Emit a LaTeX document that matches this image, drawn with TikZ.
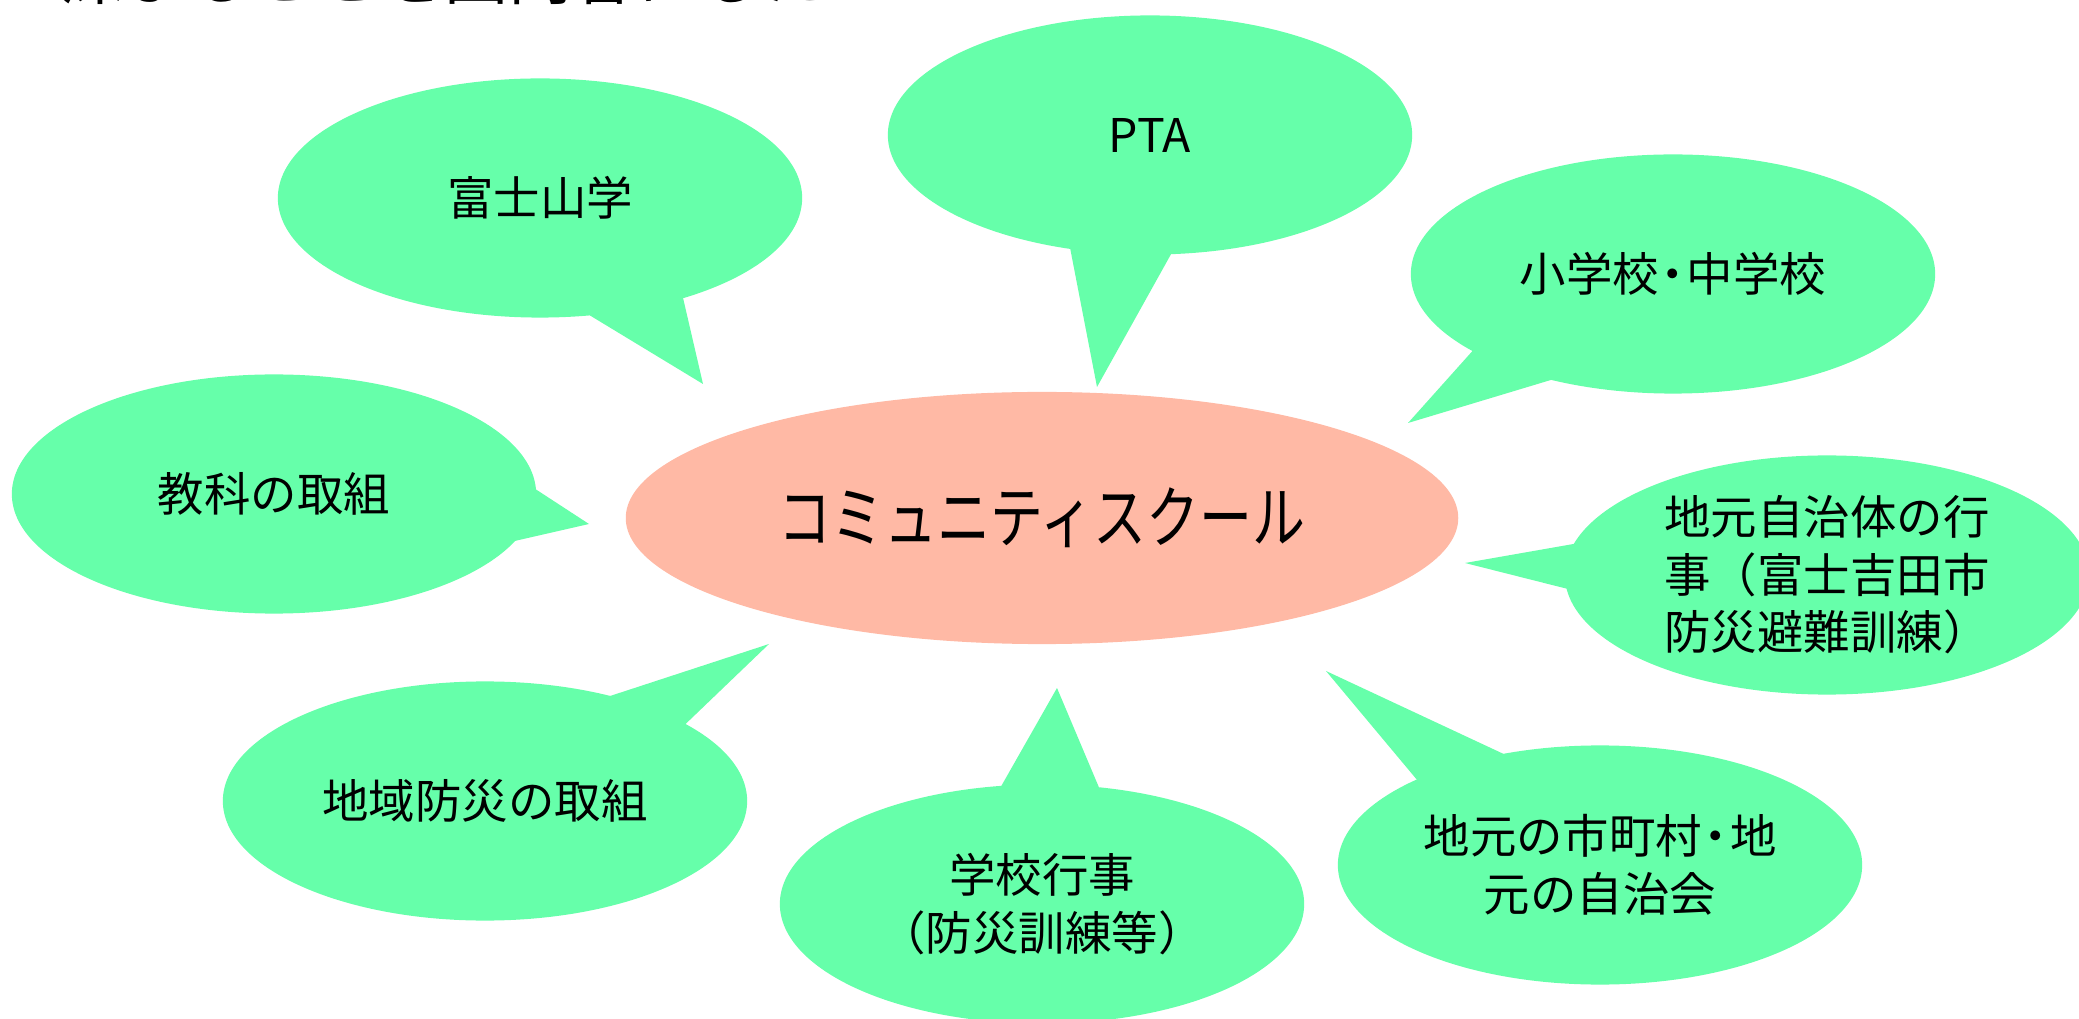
\documentclass[tikz,border=0pt]{standalone}
\usepackage{fontspec}
\newfontfamily\jp{Noto Sans CJK JP}
\usetikzlibrary{shapes.geometric,backgrounds}
\definecolor{bubgreen}{HTML}{66FFAA}
\definecolor{coresalmon}{HTML}{FFB9A5}
\begin{document}
\begin{tikzpicture}[x=0.01cm,y=-0.01cm,
  bub/.style={ellipse, fill=bubgreen, minimum width=5.24cm, minimum height=2.39cm,
    inner sep=-6pt, outer sep=0pt, align=center,
    font=\jp\fontsize{13.2}{16.4}\selectfont},
  tailfill/.style={fill=bubgreen},
  core/.style={ellipse, fill=coresalmon, minimum width=8.32cm, minimum height=2.52cm,
    inner sep=0pt, outer sep=0pt, font=\jp\fontsize{19.3}{22}\selectfont}]
\useasboundingbox (0,0) rectangle (2079,1019);
\clip (0,0) rectangle (2079,1019);

% cut-off heading at the top edge
\node[anchor=base west, inner sep=0pt, font=\jp\fontsize{18.2}{20}\selectfont] (heading) at (60,0) {深まることを図内容にしたい};

% centre
\node[core] (cs) at (1042,518) {\scalebox{0.78}[1]{コミュニティスクール}};

% bubbles
\node[bub] (fuji)   at (540,198)  {富士山学};
\node[bub] (pta)    at (1150,135) {PTA};
\node[bub] (school) at (1673,274) {小学校\kern-0.2em・\kern-0.2em 中学校};
\node[bub] (kyoka)  at (274,494)  {教科の取組};
\node[bub] (jichi)  at (1827,575) {地元自治体の行\\事（富士吉田市\\防災避難訓練）};
\node[bub] (bosai)  at (485,801)  {地域防災の取組};
\node[bub] (gyoji)  at (1042,904) {学校行事\\（防災訓練等）};
\node[bub] (city)   at (1600,865) {地元の市町村\kern-0.2em・\kern-0.2em 地\\元の自治会};

% tail tips
\coordinate (tfuji)   at (703,384);
\coordinate (tpta)    at (1097,387);
\coordinate (tschool) at (1408,423);
\coordinate (tkyoka)  at (589,524);
\coordinate (tjichi)  at (1465,563);
\coordinate (tbosai)  at (769,644);
\coordinate (tgyoji)  at (1057,688);
\coordinate (tcity)   at (1326,671);

\begin{scope}[on background layer]
  \fill[tailfill] (fuji.-67) -- (tfuji) -- (fuji.-35) -- (fuji.center) -- cycle;
  \fill[tailfill] (pta.-125) -- (tpta) -- (pta.-80) -- (pta.center) -- cycle;
  \fill[tailfill] (school.-159) -- (tschool) -- (school.-139) -- (school.center) -- cycle;
  \fill[tailfill] (kyoka.1) -- (tkyoka) -- (kyoka.-11) -- (kyoka.center) -- cycle;
  \fill[tailfill] (jichi.173) -- (tjichi) -- (jichi.183) -- (jichi.center) -- cycle;
  \fill[tailfill] (bosai.40) -- (tbosai) -- (bosai.21) -- (bosai.center) -- cycle;
  \fill[tailfill] (gyoji.109) -- (tgyoji) -- (gyoji.64) -- (gyoji.center) -- cycle;
  \fill[tailfill] (city.155) -- (tcity) -- (city.131) -- (city.center) -- cycle;
\end{scope}
\end{tikzpicture}
\end{document}
